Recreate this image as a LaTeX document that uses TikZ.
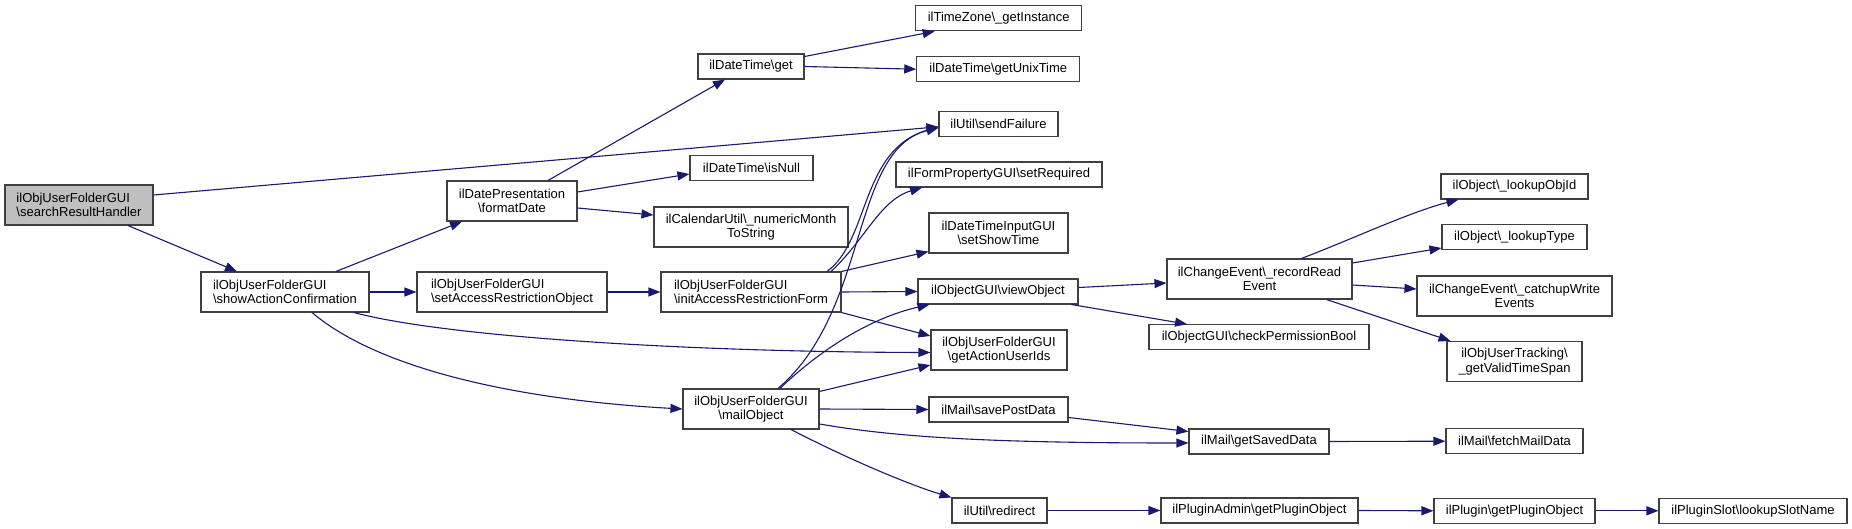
\documentclass[tikz,border=0pt]{standalone}
\usepackage{fontspec}
\setmainfont{Liberation Sans}
\usetikzlibrary{arrows.meta,calc}
\definecolor{edgeblue}{HTML}{191970}
\definecolor{boxline}{HTML}{404040}
\definecolor{rootfill}{HTML}{BFBFBF}
\newcommand{\bs}{\textbackslash}
\begin{document}
\begin{tikzpicture}[x=1pt,y=-1pt,
  fn/.style={draw=boxline,line width=1.1pt,fill=white,inner sep=0pt,
    font=\fontsize{13}{14.5}\selectfont,align=center,minimum height=25pt},
  fn2/.style={fn,minimum height=40pt},
  fnl/.style={fn2,align=left},
  call/.style={draw=edgeblue,line width=1.1pt,-{Triangle[length=12pt,width=9pt]},fill=none}]
\fill[white] (0,0) rectangle (1852,529);
\useasboundingbox (0,0) rectangle (1852,529);
% nodes
\node[fnl,fill=rootfill,minimum width=148pt] (srh) at (79,205) {ilObjUserFolderGUI\\\bs searchResultHandler};
\node[fnl,minimum width=168pt] (sac) at (285,292) {ilObjUserFolderGUI\\\bs showActionConfirmation};
\node[fn2,minimum width=130pt] (fd) at (512,201) {ilDatePresentation\\\bs formatDate};
\node[fnl,minimum width=190pt] (sar) at (512,292) {ilObjUserFolderGUI\\\bs setAccessRestrictionObject};
\node[fn,minimum width=106pt] (dtget) at (751,66.5) {ilDateTime\bs get};
\node[fn,minimum width=123pt] (isnull) at (751.5,168) {ilDateTime\bs isNull};
\node[fn2,minimum width=194pt] (cal) at (751,227) {ilCalendarUtil\bs\_numericMonth\\ToString};
\node[fnl,minimum width=180pt] (iarf) at (751,292) {ilObjUserFolderGUI\\\bs initAccessRestrictionForm};
\node[fn2,minimum width=136pt] (mail) at (751,409) {ilObjUserFolderGUI\\\bs mailObject};
\node[fn,minimum width=166pt] (tz) at (998.7,18.3) {ilTimeZone\bs\_getInstance};
\node[fn,minimum width=163pt] (unix) at (998.3,69.2) {ilDateTime\bs getUnixTime};
\node[fn,minimum width=119pt] (sf) at (998.5,123.8) {ilUtil\bs sendFailure};
\node[fn,minimum width=206pt] (setreq) at (999,174.5) {ilFormPropertyGUI\bs setRequired};
\node[fn2,minimum width=139pt] (showtime) at (998.5,233) {ilDateTimeInputGUI\\\bs setShowTime};
\node[fn,minimum width=160pt] (view) at (998,291.5) {ilObjectGUI\bs viewObject};
\node[fn2,minimum width=136pt] (gaui) at (999,350) {ilObjUserFolderGUI\\\bs getActionUserIds};
\node[fn,minimum width=139pt] (spd) at (998.5,409.5) {ilMail\bs savePostData};
\node[fn,minimum width=95pt] (redirect) at (999.5,510.5) {ilUtil\bs redirect};
\node[fn2,minimum width=185pt] (rre) at (1259.5,279) {ilChangeEvent\bs\_recordRead\\Event};
\node[fn,minimum width=220pt] (cpb) at (1259,337.2) {ilObjectGUI\bs checkPermissionBool};
\node[fn,minimum width=140pt] (gsd) at (1259,441.5) {ilMail\bs getSavedData};
\node[fn,minimum width=197pt] (pa) at (1259.5,510.5) {ilPluginAdmin\bs getPluginObject};
\node[fn,minimum width=147pt] (lobj) at (1514.5,186.5) {ilObject\bs\_lookupObjId};
\node[fn,minimum width=145pt] (ltype) at (1514.5,237) {ilObject\bs\_lookupType};
\node[fn2,minimum width=195pt] (cwe) at (1514.5,296) {ilChangeEvent\bs\_catchupWrite\\Events};
\node[fn2,minimum width=135pt] (gvts) at (1514.5,361.5) {ilObjUserTracking\bs\\\_getValidTimeSpan};
\node[fn,minimum width=137pt] (fmd) at (1514.5,441.2) {ilMail\bs fetchMailData};
\node[fn,minimum width=161pt] (plugin) at (1514.5,510.8) {ilPlugin\bs getPluginObject};
\node[fn,minimum width=188pt] (slot) at (1753,510.8) {ilPluginSlot\bs lookupSlotName};
% edges
\draw[call] ($(srh.east)+(0,-10)$) -- ($(sf.west)+(0,3)$);
\draw[call] ($(srh.south)+(49,0)$) -- ($(sac.north)+(-48,0)$);
\draw[call] ($(sac.north)+(51,0)$) -- ($(fd.south)+(-50,0)$);
\draw[call] (sac.east) -- (sar.west);
\draw[call] ($(sac.south)+(69,0)$) .. controls (450,338) and (700,352) .. ($(gaui.west)+(0,2.5)$);
\draw[call] ($(sac.south)+(27,0)$) .. controls (380,370) and (520,400) .. (mail.west);
\draw[call] ($(fd.north)+(36,0)$) -- ($(dtget.south)+(-26,0)$);
\draw[call] ($(fd.east)+(0,-9)$) -- ($(isnull.west)+(0,6)$);
\draw[call] ($(fd.east)+(0,7)$) -- ($(cal.west)+(0,-12)$);
\draw[call] ($(dtget.east)+(0,-10)$) -- ($(tz.south)+(-64,0)$);
\draw[call] (dtget.east) -- (unix.west);
\draw[call] (sar.east) -- (iarf.west);
\draw[call] ($(iarf.north)+(76,0)$) .. controls (870,240) and (860,150) .. ($(sf.west)+(0,3)$);
\draw[call] ($(iarf.north)+(80,0)$) .. controls (865,240) and (880,200) .. ($(setreq.south)+(-77,0)$);
\draw[call] (iarf.north east) -- ($(showtime.south west)+(0,-2)$);
\draw[call] (iarf.east) -- (view.west);
\draw[call] (iarf.south east) -- ($(gaui.west)+(0,-14)$);
\draw[call] ($(mail.north)+(27,0)$) .. controls (870,310) and (850,150) .. ($(sf.west)+(0,4)$);
\draw[call] ($(mail.north)+(29,0)$) .. controls (820,350) and (870,318) .. ($(view.south west)+(12,0)$);
\draw[call] ($(mail.north east)+(0,3)$) -- ($(gaui.west)+(0,15)$);
\draw[call] (mail.east) -- (spd.west);
\draw[call] ($(mail.east)+(0,15)$) .. controls (900,438) and (1000,443) .. ($(gsd.west)+(0,1.5)$);
\draw[call] ($(mail.south)+(40,0)$) .. controls (850,460) and (910,485) .. (redirect.north west);
\draw[call] ($(view.east)+(0,-4)$) -- ($(rre.west)+(0,4)$);
\draw[call] ($(view.south east)+(-7,0)$) -- ($(cpb.north)+(-72,0)$);
\draw[call] ($(rre.north)+(42,0)$) .. controls (1350,240) and (1410,212) .. ($(lobj.south)+(-56,0)$);
\draw[call] ($(rre.east)+(0,-16)$) -- ($(ltype.west)+(0,11)$);
\draw[call] ($(rre.east)+(0,6)$) -- ($(cwe.west)+(0,-7)$);
\draw[call] ($(rre.south)+(67,0)$) -- ($(gvts.north)+(-64,0)$);
\draw[call] ($(spd.east)+(0,8)$) -- ($(gsd.west)+(0,-10)$);
\draw[call] (gsd.east) -- (fmd.west);
\draw[call] (redirect.east) -- (pa.west);
\draw[call] (pa.east) -- (plugin.west);
\draw[call] (plugin.east) -- (slot.west);
\end{tikzpicture}
\end{document}
